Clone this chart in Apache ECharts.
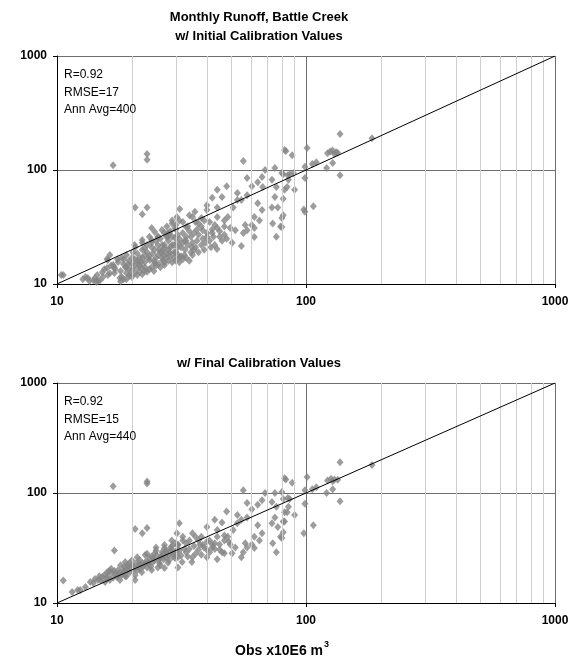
<!DOCTYPE html>
<html><head><meta charset="utf-8">
<script src="https://cdn.jsdelivr.net/npm/echarts@6/dist/echarts.min.js"></script>
<style>html,body{margin:0;padding:0;background:#fff}#c{width:577px;height:662px}</style>
</head><body><div id="c"></div>
<script>
const initialPoints = [
[10.4,12],[10.6,12],[12.7,11],[13,11.5],[13.3,11.3],[13.5,10.6],[14,10.8],[14.2,11.3],[14.4,10.4],[14.5,12],[14.6,10.6],[14.9,10.8],
[15.2,12.7],[15.3,11.5],[15.5,13.5],[15.9,13.8],[15.9,16.6],[16,16.2],[16,12],[16.3,12.4],[16.3,18],[16.5,14.5],[16.8,14.7],[16.8,110],
[17,12.5],[17,14],[17.1,13.5],[17.5,16.5],[17.6,15.6],[17.9,11.3],[18,13],[18.2,17],[18.2,11.5],[18.5,15],[18.6,16.5],[18.8,14],[19,18],
[19,12.5],[19,14],[19.3,15],[19.5,16],[19.6,12],[20,17],[20,13.3],[20,15],[20.2,19],[20.4,14.5],[20.5,22],[20.6,21],[20.6,47],[21,13.8],
[21,16],[21,18.5],[21.2,15.3],[21.5,17],[21.8,15.5],[21.9,13.8],[22,24.3],[22,20],[22,17],[22,23],[22,41],[22.5,20.5],[22.5,18],[22.6,14],
[23,22],[23,19],[23,47],[23,138],[23,123],[23.2,16.8],[23.5,26],[23.6,16.2],[24,31],[24,24.3],[24,21],[24,23],[24.2,18.5],[24.7,28.6],
[24.7,20],[24.7,15.3],[25,17],[25,24],[25.4,22],[25.4,25.8],[25.5,26],[25.8,20],[26,19],[26,25],[26.4,29.8],[26.4,17],[26.5,22],[26.8,18],
[27,20.7],[27,22],[27,28],[27,14.7],[27.5,26],[27.6,32],[27.9,25.8],[27.9,28],[28,24],[28,20],[28.2,27.5],[28.4,18.7],[28.5,29],[29,34],
[29,22],[29,36],[29,26],[29.5,22],[29.8,25.3],[29.8,31],[30,30],[30,19],[30,33],[30.3,38.7],[30.5,27],[30.6,21],[30.6,18],[31,25],[31,36],
[31,17],[31.1,45.5],[31.5,17.5],[31.8,22.8],[32,28],[32,35],[32.7,20],[33,24],[33,26],[33,31.6],[34,29],[34.8,21],[35,38.7],[35,23],
[35.8,43],[37,34],[37,27],[38,38],[38.5,29.6],[40,49],[40,44.6],[40,26],[41,35],[42,57],[42,28],[43,33],[43.9,20.3],[44,67],[44,47],
[44,38.7],[44,31],[45,26],[46,58],[47,36],[47,27],[48,72],[48.5,38.7],[49.6,31],[50.5,23],[51,47],[52,29.6],[53,63],[53,54.6],[55,54.6],
[55,21.5],[56,120],[56,28],[57,33],[58,85],[58,60],[58,29.6],[60.6,72],[60.6,33],[62,38.7],[62,31],[62,25.8],[64,78],[64,51],[65,36],
[66.6,87],[66.6,44.6],[67,71],[68.5,100],[73,82],[73,47],[73.5,34],[75,104],[75,58],[76,71],[76,26],[77,47],[79,32],[80,94],[80,31.6],
[80,38],[81,56],[81,40],[81,92],[82,150],[82,67],[83,147],[84,71],[84.5,90],[85,82],[86,92],[88,135],[89,94],[90,67],[98,45],[99,43],
[99,85],[99,107],[101,156],[106,113],[107,48],[110,117],[121,104],[122,140],[125,145],[128,148],[128,115],[130,138],[132,143],[134,142],
[137,207],[137,90],[184,190],
[18,10.5],[18.5,11],[19,11],[19.5,11.8],[20,11.5],[20.5,12.5],[21,12],[21.5,12.8],[22,12.2],[22.5,13],[23,12.8],[23.5,13.5],[24,14],
[24.5,13],[25,14.5],[25.5,15],[26,14],[26.5,16],[27,15.5],[27.5,17],[28,16],[28.5,17.5],[29,15.5],[29.5,17],[30,16],[31,15.5],[32,16.5],
[32.5,18],[33,17],[34,16],[34.5,19],[35,18],[35.5,20],[36,21],[36.5,24],[37,19],[38,22],[38.5,25],[39,20],[39.5,23],[40,28],[41,24],
[41.5,21],[42,30],[42.5,26],[43,22],[45,29],[46,24],[47,32],[48,25],[19.5,13.5],[20.5,16.5],[21.5,14.5],[22.5,15.5],[23.5,17.5],
[24.5,16],[25.5,18],[26.5,19.5],[27.5,18.5],[28.5,21],[29.5,19],[30.5,23],[31.5,21],[32.5,24],[33.5,22],[34.5,26],[35.5,28],[36.5,30],
[33.5,32],[36,35],[38,32],[39,36],[34,40]
];
const finalPoints = [
[10.6,16],[11.5,12.6],[12.1,13.1],[12.4,13.1],[13,14],[13.6,15.5],[14,15.2],[14.2,16.5],[14.6,16.2],[14.8,17.5],[15.2,17.2],[15.5,18],
[15.6,15.5],[15.9,19],[16,17.5],[16.3,16.2],[16.5,20.5],[16.6,18.8],[16.8,17],[16.8,115],[17,19.5],[17,30],[17.4,17.2],[17.6,20],
[17.8,18.5],[17.9,16.2],[18,22],[18.2,18],[18.5,20],[18.8,17.5],[18.8,23.6],[19,20.8],[19,17.5],[19.3,22],[19.6,19],[19.8,21],[20,22],
[20,24.5],[20.3,20],[20.6,17.9],[20.6,16.2],[20.6,47],[21,19.8],[21.2,21.2],[21.4,22.8],[21.5,24.6],[21.9,19],[22,23],[22,43],[22.2,21.5],
[22.6,27.3],[22.8,24],[23,21],[23,48],[23,127],[23,122],[23.4,22.5],[23.6,25.6],[24,20],[24,26.5],[24.3,23.6],[24.6,24.5],[24.7,28.4],
[25,32],[25.2,27],[25.4,21],[25.8,23],[25.9,25.6],[26.2,26.5],[26.4,29],[26.8,25],[27,33.7],[27,20.8],[27.4,30],[27.6,28.4],[27.9,23.2],
[28,27],[28.6,32],[28.9,37],[29,30.3],[29.3,28],[29.8,25.6],[29.8,35],[30.2,30],[30.3,43],[30.6,33.7],[30.6,34],[30.6,26],[30.6,21],
[31,53],[31.8,23.6],[32,37],[33,29],[33,35],[34.8,23.6],[35,43],[35,26],[37,37],[37,30.5],[38,40],[38.5,33.7],[40,49],[40,30.5],[40,26],
[41,37],[42,32],[43,57],[43,35],[44,46],[44,40],[44,25],[45,30.5],[46,54],[47,37],[47,28.4],[48,68],[48.5,40],[49.6,34],[50.5,28.4],
[51,46],[52,32],[53,63],[53,53],[55,57],[55,26],[56,106],[56,29],[57,35],[58,81],[58,60],[58,32],[60.6,71],[60.6,34],[62,40],[62,31.6],
[64,78],[64,51],[65,37],[66.6,86],[66.6,43],[68.5,100],[73,83],[73,53],[73.5,35],[75,100],[75,60],[76,75],[76,29],[77,49],[79,40],
[80,102],[80,39],[81,88],[81,55],[81,44],[82,136],[82,67],[82,55],[83,133],[84,67],[84.5,90],[85,75],[86,88],[88,124],[90,63],[98,43],
[99,80],[99,106],[101,140],[106,108],[107,51],[110,113],[121,100],[122,130],[126,135],[128,128],[128,108],[130,133],[134,132],[137,190],
[137,84],[184,180],
[15,16],[15.8,16.8],[16.2,19.5],[17.2,18.5],[17.6,17.8],[18.4,19],[18.6,21.5],[19.2,19.8],[19.5,23],[20.2,21.5],[20.8,23],[21.6,20.5],
[22.4,22.5],[23.2,23.5],[23.8,21.5],[24.4,25.5],[25.6,24.5],[26,22],[26.6,27.5],[27.2,26],[28.2,24.5],[28.4,29.5],[29.2,26.5],[30,28.5],
[31,30],[31.5,27],[32.5,31],[33.5,26.5],[34,31],[35.5,33],[36,28],[37.5,34],[38,27.5],[39,32],[40,36],[41,29],[42,34],[43,31],[45,34],
[46,29],[47,41],[49,36],[21,26],[23,28],[25,30],[27,31.5],[29,33],[32,40],[34,37],[36,40]
];
const oneToOne = [[10,10],[1000,1000]];
const minorGridX = [20,30,40,50,60,70,80,90,200,300,400,500,600,700,800,900];
const titleLines = ['Monthly Runoff, Battle Creek','w/ Initial Calibration Values'];
const finalTitle = 'w/ Final Calibration Values';
const initialStats = ['R=0.92','RMSE=17','Ann Avg=400'];
const finalStats = ['R=0.92','RMSE=15','Ann Avg=440'];
const xAxisTitle = 'Obs x10E6 m';
const xAxisTitleSup = '3';

const FONT = '"Liberation Sans", Arial, sans-serif';
const grids = [
  {left:57, top:56, width:498, height:228},
  {left:57, top:383, width:498, height:220}
];

function logAxis(gi, isX){
  return {
    type:'log', logBase:10, gridIndex:gi, min:10, max:1000,
    axisLine:{show:true, onZero:false, lineStyle:{color:'#000', width:1}},
    axisTick:{show:true, inside:false, length:4, lineStyle:{color:'#000'}},
    axisLabel:{show:true, fontWeight:'bold', fontSize:12, color:'#000', fontFamily:FONT,
      margin: isX ? 12 : 10, formatter:v => String(Math.round(v))},
    splitLine:{show:true, lineStyle:{color:'#6e6e6e', width:1}},
    minorTick:{show:false}, minorSplitLine:{show:false}
  };
}

const series = [];
[initialPoints, finalPoints].forEach((pts, gi) => {
  series.push({
    type:'scatter', xAxisIndex:gi, yAxisIndex:gi, data:[], silent:true, z:1,
    markLine:{silent:true, symbol:['none','none'], label:{show:false}, animation:false,
      lineStyle:{color:'#cfcfcf', type:'solid', width:1},
      data: minorGridX.map(v => ({xAxis:v}))}
  });
  series.push({
    type:'scatter', xAxisIndex:gi, yAxisIndex:gi, data:pts, z:3,
    symbol:'diamond', symbolSize:[7,8], itemStyle:{color:'#858585'}
  });
  series.push({
    type:'line', xAxisIndex:gi, yAxisIndex:gi, data:oneToOne, z:5, silent:true,
    symbol:'none', lineStyle:{color:'#000', width:1}
  });
});

function txt(x, y, text, opts){
  return {type:'text', x:x, y:y, silent:true, z:10, style:Object.assign({
    text:text, fill:'#000', fontFamily:FONT, fontSize:12, fontWeight:'normal',
    textAlign:'left', textVerticalAlign:'middle'}, opts||{})};
}
const graphic = [
  txt(259, 17, titleLines[0], {fontSize:13, fontWeight:'bold', textAlign:'center'}),
  txt(259, 36, titleLines[1], {fontSize:13, fontWeight:'bold', textAlign:'center'}),
  txt(259, 363, finalTitle, {fontSize:13, fontWeight:'bold', textAlign:'center'}),
  txt(323, 651, xAxisTitle, {fontSize:14, fontWeight:'bold', textAlign:'right'}),
  txt(324, 645, xAxisTitleSup, {fontSize:9, fontWeight:'bold', textAlign:'left'})
];
initialStats.forEach((s,i) => graphic.push(txt(64, 75 + i*17.5, s)));
finalStats.forEach((s,i) => graphic.push(txt(64, 402 + i*17.5, s)));

const chart = echarts.init(document.getElementById('c'), null, {renderer:'canvas'});
chart.setOption({
  animation:false,
  backgroundColor:'#fff',
  grid: grids.map(g => Object.assign({containLabel:false}, g)),
  xAxis:[logAxis(0,true), logAxis(1,true)],
  yAxis:[logAxis(0,false), logAxis(1,false)],
  series: series,
  graphic: graphic
});
</script></body></html>
